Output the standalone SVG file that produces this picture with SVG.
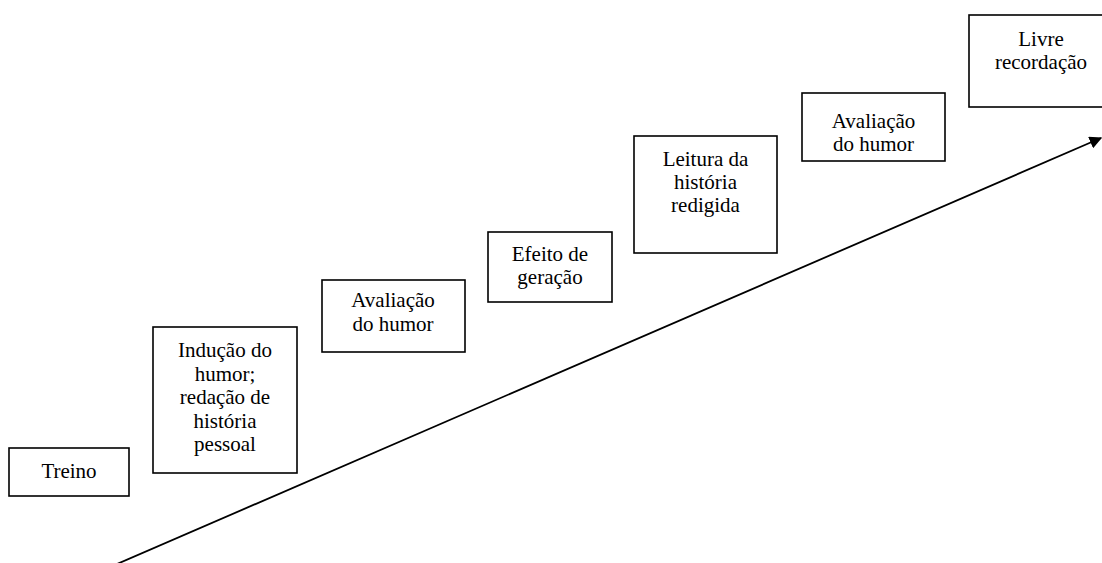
<svg xmlns="http://www.w3.org/2000/svg" width="1102" height="563" viewBox="0 0 1102 563">
<style>
.box{fill:#fff;stroke:#000;stroke-width:1.6}
.t{font-family:"Liberation Serif","Times New Roman",serif;font-size:21px;fill:#000;text-anchor:middle}
.conn{stroke:#000;stroke-width:1.8;fill:none}
</style>
<defs>
<marker id="ah" viewBox="0 0 10 10" refX="9" refY="5" markerWidth="7" markerHeight="7" markerUnits="strokeWidth" orient="auto">
<path d="M0,0 L10,5 L0,10 Z" fill="#000"/>
</marker>
</defs>
<rect width="1102" height="563" fill="#fff"/>
<g id="connectors">
<line class="conn" x1="117" y1="564" x2="1101" y2="138" marker-end="url(#ah)"/>
</g>
<g id="n1">
<rect class="box" x="9" y="448" width="120" height="48"/>
<text class="t" x="69" y="478">Treino</text>
</g>
<g id="n2">
<rect class="box" x="153" y="327" width="144" height="146"/>
<text class="t" x="225" y="357">Indução do</text>
<text class="t" x="225" y="381">humor;</text>
<text class="t" x="225" y="404">redação de</text>
<text class="t" x="225" y="428">história</text>
<text class="t" x="225" y="451">pessoal</text>
</g>
<g id="n3">
<rect class="box" x="322" y="280" width="143" height="72"/>
<text class="t" x="393" y="307">Avaliação</text>
<text class="t" x="393" y="331">do humor</text>
</g>
<g id="n4">
<rect class="box" x="488" y="232" width="124" height="70"/>
<text class="t" x="550" y="261">Efeito de</text>
<text class="t" x="550" y="284">geração</text>
</g>
<g id="n5">
<rect class="box" x="634" y="136" width="143" height="117"/>
<text class="t" x="705.5" y="166">Leitura da</text>
<text class="t" x="705.5" y="189">história</text>
<text class="t" x="705.5" y="212">redigida</text>
</g>
<g id="n6">
<rect class="box" x="802" y="93" width="143" height="68"/>
<text class="t" x="873.5" y="128">Avaliação</text>
<text class="t" x="873.5" y="151">do humor</text>
</g>
<g id="n7">
<rect class="box" x="969" y="15" width="144" height="92"/>
<text class="t" x="1041" y="46">Livre</text>
<text class="t" x="1041" y="69">recordação</text>
</g>
</svg>
